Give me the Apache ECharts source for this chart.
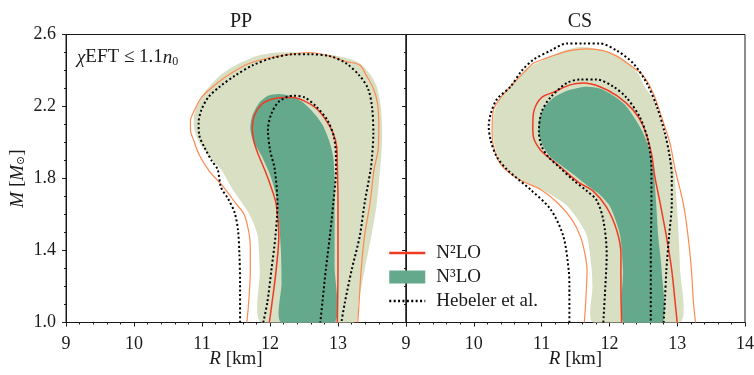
<!DOCTYPE html>
<html>
<head>
<meta charset="utf-8">
<script src="https://cdn.jsdelivr.net/npm/echarts@6/dist/echarts.min.js"></script>
<style>
  html, body { margin: 0; padding: 0; background: #ffffff; }
  #chart { width: 754px; height: 375px; }
</style>
</head>
<body>
<div id="chart"></div>
<script>
// Tick labels
const radiusTicksPP = [9, 10, 11, 12, 13];
const radiusTicksCS = [9, 10, 11, 12, 13, 14];
const massTicks = [1.0, 1.4, 1.8, 2.2, 2.6];
const panelTitles = ['PP', 'CS'];

// Mass-radius credible contours, [R (km), M (Msun)]
// PP: N3LO 95% region
const ppN3LO95 = [[11.87,1.00],[11.85,1.29],[11.82,1.48],[11.75,1.56],[11.65,1.63],[11.45,1.74],[11.28,1.85],[11.11,1.92],[10.96,2.00],[10.89,2.07],[10.88,2.14],[10.94,2.22],[11.06,2.29],[11.26,2.37],[11.50,2.43],[11.80,2.48],[12.09,2.50],[12.44,2.50],[12.83,2.49],[13.12,2.47],[13.32,2.44],[13.47,2.38],[13.57,2.31],[13.63,2.20],[13.65,2.05],[13.63,1.90],[13.57,1.66],[13.49,1.48],[13.39,1.29],[13.30,1.11],[13.25,1.00]];
// PP: N3LO 68% region
const ppN3LO68 = [[12.16,1.00],[12.17,1.22],[12.16,1.40],[12.13,1.57],[12.08,1.72],[11.99,1.83],[11.87,1.93],[11.75,2.01],[11.71,2.08],[11.74,2.15],[11.84,2.22],[11.97,2.26],[12.12,2.27],[12.29,2.26],[12.46,2.23],[12.63,2.17],[12.77,2.10],[12.87,2.01],[12.93,1.92],[12.95,1.79],[12.95,1.59],[12.95,1.31],[12.95,1.00]];
// PP: N2LO 95% contour
const ppN2LO95 = [[11.66,1.00],[11.69,1.13],[11.71,1.29],[11.71,1.42],[11.69,1.50],[11.62,1.60],[11.50,1.66],[11.30,1.76],[11.11,1.84],[10.96,1.93],[10.88,2.01],[10.83,2.07],[10.83,2.12],[10.89,2.18],[10.99,2.25],[11.16,2.31],[11.41,2.38],[11.70,2.44],[12.00,2.47],[12.29,2.49],[12.58,2.50],[12.88,2.48],[13.12,2.45],[13.32,2.43],[13.42,2.37],[13.52,2.30],[13.58,2.22],[13.60,2.09],[13.59,1.96],[13.53,1.85],[13.47,1.66],[13.39,1.48],[13.34,1.29],[13.31,1.11],[13.29,1.00]];
// PP: N2LO 68% contour
const ppN2LO68 = [[11.99,1.00],[12.03,1.11],[12.09,1.29],[12.13,1.48],[12.09,1.66],[12.00,1.77],[11.92,1.85],[11.82,1.94],[11.76,2.01],[11.74,2.08],[11.77,2.15],[11.87,2.21],[12.02,2.24],[12.19,2.25],[12.34,2.25],[12.51,2.23],[12.68,2.19],[12.83,2.12],[12.93,2.05],[12.98,1.98],[12.99,1.87],[13.00,1.68],[13.00,1.31],[12.99,1.00]];
// PP: Hebeler et al. bands
const ppHebeler95 = [[11.56,1.00],[11.56,1.22],[11.55,1.38],[11.53,1.51],[11.48,1.61],[11.38,1.69],[11.28,1.75],[11.23,1.85],[11.14,1.90],[11.04,1.97],[10.96,2.04],[10.95,2.11],[10.99,2.18],[11.09,2.25],[11.26,2.31],[11.48,2.37],[11.75,2.43],[12.04,2.47],[12.34,2.49],[12.58,2.49],[12.88,2.48],[13.12,2.44],[13.32,2.37],[13.44,2.30],[13.50,2.20],[13.52,2.05],[13.50,1.92],[13.48,1.85],[13.39,1.66],[13.32,1.48],[13.20,1.29],[13.10,1.11],[13.05,1.00]];
const ppHebeler68 = [[11.90,1.00],[11.96,1.11],[12.02,1.29],[12.08,1.48],[12.11,1.66],[12.07,1.85],[12.00,1.96],[11.97,2.07],[12.02,2.16],[12.14,2.23],[12.34,2.26],[12.51,2.25],[12.68,2.20],[12.85,2.12],[12.94,2.03],[12.97,1.92],[12.97,1.85],[12.93,1.66],[12.88,1.48],[12.82,1.29],[12.77,1.11],[12.74,1.00]];

// CS: N3LO 95% region
const csN3LO95 = [[11.76,1.00],[11.75,1.20],[11.74,1.29],[11.67,1.48],[11.54,1.57],[11.37,1.65],[11.18,1.70],[10.99,1.74],[10.76,1.78],[10.55,1.83],[10.39,1.89],[10.31,1.98],[10.28,2.07],[10.30,2.16],[10.38,2.24],[10.50,2.30],[10.64,2.36],[10.78,2.41],[10.98,2.45],[11.15,2.48],[11.32,2.51],[11.57,2.53],[11.81,2.52],[12.06,2.49],[12.25,2.45],[12.43,2.38],[12.52,2.31],[12.65,2.24],[12.75,2.14],[12.82,2.05],[12.89,1.96],[12.95,1.85],[12.99,1.68],[13.02,1.50],[13.04,1.31],[13.04,1.00]];
// CS: N3LO 68% region
const csN3LO68 = [[12.21,1.00],[12.20,1.29],[12.16,1.48],[12.09,1.57],[12.00,1.65],[11.86,1.71],[11.68,1.76],[11.48,1.82],[11.30,1.87],[11.13,1.92],[11.02,1.98],[10.96,2.05],[10.96,2.12],[11.03,2.19],[11.18,2.25],[11.40,2.29],[11.64,2.31],[11.86,2.30],[12.06,2.26],[12.23,2.21],[12.38,2.13],[12.50,2.05],[12.59,1.96],[12.65,1.85],[12.69,1.66],[12.72,1.48],[12.77,1.29],[12.78,1.00]];
// CS: N2LO contours
const csN2LO95 = [[11.63,1.00],[11.65,1.11],[11.67,1.29],[11.64,1.38],[11.57,1.48],[11.45,1.57],[11.25,1.66],[10.98,1.74],[10.69,1.79],[10.44,1.86],[10.34,1.92],[10.28,2.00],[10.27,2.07],[10.29,2.18],[10.42,2.26],[10.59,2.33],[10.74,2.39],[10.88,2.44],[11.08,2.47],[11.23,2.49],[11.42,2.51],[11.67,2.52],[11.91,2.51],[12.11,2.48],[12.30,2.43],[12.50,2.37],[12.65,2.27],[12.77,2.14],[12.89,2.00],[12.97,1.85],[13.09,1.66],[13.16,1.48],[13.21,1.29],[13.24,1.11],[13.27,1.00]];
const csN2LO68 = [[12.18,1.00],[12.17,1.20],[12.17,1.38],[12.11,1.51],[11.96,1.64],[11.76,1.73],[11.54,1.78],[11.32,1.85],[11.13,1.91],[10.98,1.96],[10.88,2.03],[10.87,2.09],[10.89,2.18],[11.00,2.25],[11.18,2.28],[11.42,2.32],[11.62,2.33],[11.86,2.31],[12.11,2.26],[12.35,2.18],[12.50,2.09],[12.62,1.94],[12.67,1.81],[12.75,1.66],[12.84,1.48],[12.92,1.29],[12.97,1.11],[13.00,1.00]];
// CS: Hebeler et al. bands
const csHebeler95 = [[11.41,1.00],[11.41,1.20],[11.40,1.29],[11.32,1.48],[11.13,1.63],[10.83,1.74],[10.49,1.85],[10.34,1.92],[10.25,2.01],[10.22,2.09],[10.25,2.16],[10.34,2.24],[10.54,2.31],[10.71,2.40],[10.88,2.46],[11.13,2.51],[11.37,2.55],[11.62,2.55],[11.86,2.55],[12.11,2.51],[12.35,2.44],[12.55,2.33],[12.70,2.20],[12.82,2.05],[12.89,1.92],[12.92,1.81],[12.92,1.66],[12.88,1.48],[12.84,1.29],[12.82,1.13],[12.80,1.00]];
const csHebeler68 = [[11.91,1.00],[11.94,1.20],[11.96,1.38],[11.91,1.57],[11.81,1.68],[11.67,1.73],[11.47,1.79],[11.27,1.86],[11.10,1.92],[11.00,1.98],[10.96,2.06],[11.00,2.17],[11.13,2.25],[11.37,2.33],[11.57,2.35],[11.81,2.35],[12.06,2.31],[12.25,2.25],[12.45,2.14],[12.57,2.01],[12.62,1.85],[12.62,1.66],[12.61,1.38],[12.61,1.00]];

const FONT = "'Liberation Serif', 'DejaVu Serif', serif";
const INK = '#1a1a1a';
const LIGHT = '#d8dfc2';
const DARK = '#65a98d';
const ORANGE = '#fd8a52';
const RED = '#ee3b24';
const FS = 18;   // tick labels
const FT = 19;   // words: legend, axis names, annotation

const italic = { fontStyle: 'italic', fontFamily: FONT, fontSize: FT, color: INK };

function xAxis(gridIndex, ticks) {
  return {
    type: 'value', gridIndex: gridIndex, min: 9, max: 14, interval: 1,
    axisLine: { show: true, onZero: false, lineStyle: { color: INK, width: 1 } },
    axisTick: { show: true, length: 4, lineStyle: { color: INK, width: 1 } },
    minorTick: { show: true, splitNumber: 5, length: 2, lineStyle: { color: INK, width: 1 } },
    splitLine: { show: false },
    axisLabel: {
      margin: 13, color: INK, fontFamily: FONT, fontSize: FS,
      formatter: function (v) { return ticks.indexOf(Math.round(v)) >= 0 ? String(Math.round(v)) : ''; }
    },
    name: '{i|R} [km]', nameLocation: 'middle', nameGap: 27, nameMoveOverlap: false,
    nameTextStyle: { fontFamily: FONT, fontSize: FT, color: INK, rich: { i: italic } }
  };
}

function yAxis(gridIndex, withLabels) {
  return {
    type: 'value', gridIndex: gridIndex, min: 1.0, max: 2.6, interval: 0.4,
    axisLine: { show: true, onZero: false, lineStyle: { color: INK, width: 1 } },
    axisTick: { show: true, length: 4, lineStyle: { color: INK, width: 1 } },
    minorTick: { show: true, splitNumber: 4, length: 2, lineStyle: { color: INK, width: 1 } },
    splitLine: { show: false },
    axisLabel: {
      show: withLabels, margin: 10, color: INK, fontFamily: FONT, fontSize: FS,
      formatter: function (v) {
        const hit = massTicks.find(function (t) { return Math.abs(t - v) < 1e-6; });
        return hit === undefined ? '' : hit.toFixed(1);
      }
    },
    name: withLabels ? '{i|M} [{i|M}{sub|⊙}]' : '',
    nameLocation: 'middle', nameRotate: 90, nameGap: 39, nameMoveOverlap: false,
    nameTextStyle: {
      fontFamily: FONT, fontSize: FT, color: INK,
      rich: { i: italic, sub: { fontFamily: FONT, fontSize: 11, color: INK, verticalAlign: 'bottom', lineHeight: 8 } }
    }
  };
}

function fill(name, points, gridIndex, color, z) {
  return {
    type: 'custom', name: name, xAxisIndex: gridIndex, yAxisIndex: gridIndex,
    data: points, encode: { x: 0, y: 1 }, clip: true, z: z, silent: true,
    itemStyle: { color: color },
    renderItem: function (params, api) {
      if (params.dataIndex !== 0) return null;
      return {
        type: 'polygon',
        shape: { points: points.map(function (p) { return api.coord(p); }), smooth: 0.25 },
        style: { fill: color }
      };
    }
  };
}

function contour(name, points, gridIndex, color, width, dash, z) {
  return {
    type: 'line', name: name, xAxisIndex: gridIndex, yAxisIndex: gridIndex,
    data: points, symbol: 'none', showSymbol: false, smooth: 0.3, z: z, silent: true,
    lineStyle: { color: color, width: width, type: dash || 'solid', cap: 'butt' },
    itemStyle: { color: color }
  };
}

function panel(gi, n3lo95, n3lo68, n2lo95, n2lo68, heb95, heb68) {
  return [
    fill('N³LO 95%', n3lo95, gi, LIGHT, 1),
    fill('N³LO', n3lo68, gi, DARK, 2),
    contour('N²LO 95%', n2lo95, gi, ORANGE, 1.2, null, 3),
    contour('N²LO', n2lo68, gi, RED, 1.5, null, 4),
    contour('Hebeler et al.', heb95, gi, '#000000', 2, [2, 2.4], 5),
    contour('Hebeler et al.', heb68, gi, '#000000', 2, [2, 2.4], 5)
  ];
}

const chart = echarts.init(document.getElementById('chart'), null, { renderer: 'canvas' });
chart.setOption({
  backgroundColor: '#ffffff',
  animation: false,
  textStyle: { fontFamily: FONT },
  title: [
    { text: panelTitles[0], left: 236, top: 7, textAlign: 'center', textStyle: { fontFamily: FONT, fontSize: 20, fontWeight: 'normal', color: INK } },
    { text: panelTitles[1], left: 575, top: 7, textAlign: 'center', textStyle: { fontFamily: FONT, fontSize: 20, fontWeight: 'normal', color: INK } }
  ],
  grid: [
    { left: 66, top: 34.5, width: 340, height: 288, outerBoundsMode: 'none', containLabel: false, show: true, borderColor: INK, borderWidth: 1, backgroundColor: 'transparent' },
    { left: 406, top: 34.5, width: 339, height: 288, outerBoundsMode: 'none', containLabel: false, show: true, borderColor: INK, borderWidth: 1, backgroundColor: 'transparent' }
  ],
  xAxis: [xAxis(0, radiusTicksPP), xAxis(1, radiusTicksCS)],
  yAxis: [yAxis(0, true), yAxis(1, false)],
  legend: {
    orient: 'vertical', left: 388, top: 243, padding: 0, itemGap: 4,
    itemWidth: 36, itemHeight: 13,
    data: [
      { name: 'N²LO', itemStyle: { opacity: 0 }, lineStyle: { width: 2.5 } },
      { name: 'N³LO', icon: 'rect' },
      { name: 'Hebeler et al.', itemStyle: { opacity: 0 }, lineStyle: { width: 2.5 } }
    ],
    textStyle: { fontFamily: FONT, fontSize: FT, color: INK, lineHeight: 20, padding: [0, 0, 0, 6] },
    selectedMode: false
  },
  graphic: [{
    type: 'text', left: 77, top: 48, silent: true,
    style: {
      text: '{i|χ}EFT ≤ 1.1{i|n}{sub|0}',
      fontFamily: FONT, fontSize: FT, fill: INK,
      rich: {
        i: { fontStyle: 'italic', fontFamily: FONT, fontSize: FT, fill: INK, lineHeight: 20 },
        sub: { fontFamily: FONT, fontSize: 12, fill: INK, verticalAlign: 'bottom', lineHeight: 8 }
      }
    }
  }],
  series: [].concat(
    panel(0, ppN3LO95, ppN3LO68, ppN2LO95, ppN2LO68, ppHebeler95, ppHebeler68),
    panel(1, csN3LO95, csN3LO68, csN2LO95, csN2LO68, csHebeler95, csHebeler68)
  )
});
</script>
</body>
</html>
